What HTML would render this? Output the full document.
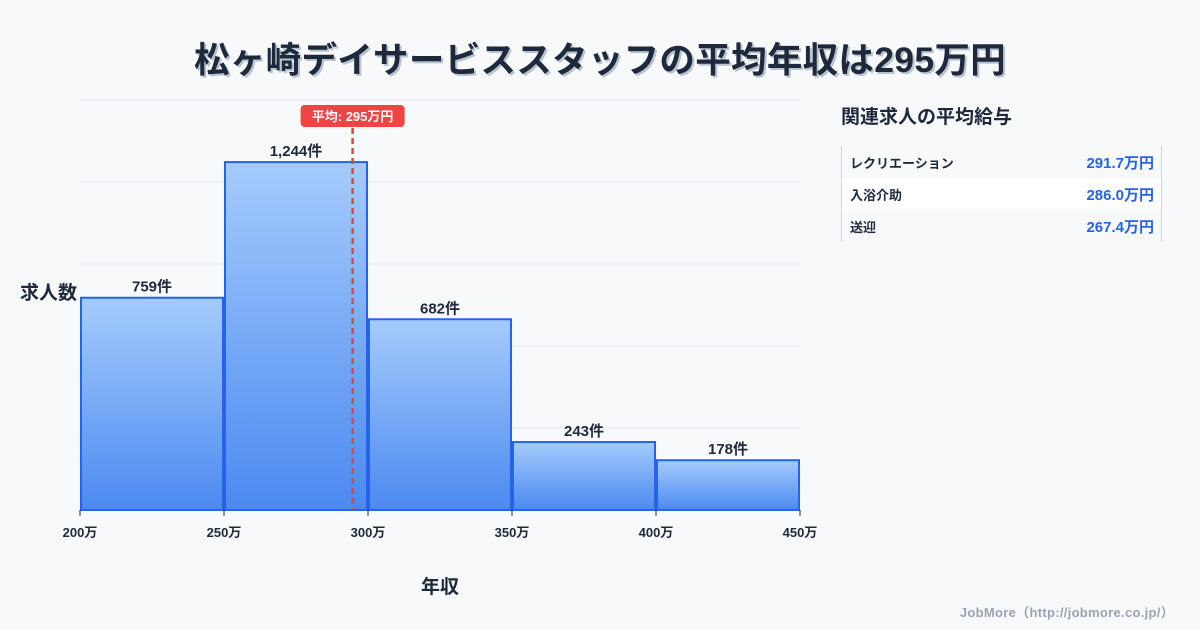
<!DOCTYPE html>
<html><head><meta charset="utf-8">
<style>
body{margin:0;width:1200px;height:630px;background:#f8f9fb;font-family:"Liberation Sans","Noto Sans CJK JP",sans-serif;color:#1e293b;overflow:hidden;position:relative}
.title{position:absolute;top:32px;left:0;width:1200px;text-align:center;font-size:35.5px;font-weight:bold;color:#1e293b;text-shadow:2px 2px 0 #b8c2d0;letter-spacing:0.3px}
.side h3{position:absolute;left:841px;top:102px;margin:0;font-size:19px;font-weight:bold}
.tbl{position:absolute;left:841px;top:146px;width:319px;border-left:1px solid #cbd5e1;border-right:1px solid #cbd5e1}
.row{height:32px;display:flex;justify-content:space-between;align-items:center;padding:0 7px 0 8px;font-size:13px;font-weight:bold}
.row .v{color:#2563eb;font-size:15px}
.row.alt{background:#fff}
.foot{position:absolute;right:26px;top:602px;font-size:13px;color:#9aa3af;font-weight:bold;letter-spacing:0.3px}
</style></head><body>
<div class="title">松ヶ崎デイサービススタッフの平均年収は295万円</div>
<svg id="chart" width="1200" height="630" style="position:absolute;left:0;top:0">
<defs><linearGradient id="g" x1="0" y1="0" x2="0" y2="1"><stop offset="0" stop-color="#a5cbfb"/><stop offset="1" stop-color="#4b8af1"/></linearGradient></defs>
</svg>
<div class="side">
<h3>関連求人の平均給与</h3>
<div class="tbl">
<div class="row"><span>レクリエーション</span><span class="v">291.7万円</span></div>
<div class="row alt"><span>入浴介助</span><span class="v">286.0万円</span></div>
<div class="row"><span>送迎</span><span class="v">267.4万円</span></div>
</div></div>
<div class="foot">JobMore（http://jobmore.co.jp/）</div>
<script>
const binStarts=[200,250,300,350,400];
const counts=[759,1244,682,243,178];
const xTicks=[200,250,300,350,400,450];
const avgValue=295;
const NS="http://www.w3.org/2000/svg";
const svg=document.getElementById('chart');
const x0=80,x1=800,yB=510,yT=100,xMin=200,xMax=450,yMax=1466;
const X=v=>x0+(v-xMin)/(xMax-xMin)*(x1-x0);
const Y=v=>yB-v/yMax*(yB-yT);
function mk(t,a,txt){const e=document.createElementNS(NS,t);for(const k in a)e.setAttribute(k,a[k]);if(txt!=null)e.textContent=txt;svg.appendChild(e);return e;}
for(let i=0;i<=5;i++){const y=yT+i*(yB-yT)/5;
const gl=mk('line',{x1:x0,x2:x1,y1:y,y2:y,stroke:'#e5e7eb','stroke-width':1});

}
counts.forEach((c,i)=>{
const xa=X(binStarts[i])+1,xb=X(binStarts[i]+50)-1;
const r=mk('rect',{x:xa,y:Y(c),width:xb-xa,height:yB-Y(c),fill:'url(#g)',stroke:'#2563eb','stroke-width':2});


const t=mk('text',{x:(xa+xb)/2,y:Y(c)-6,'text-anchor':'middle','font-size':15,'font-weight':'bold',fill:'#1e293b'},c.toLocaleString()+'件');


});
xTicks.forEach(v=>{
const l=mk('line',{x1:X(v),x2:X(v),y1:yB,y2:yB+6,stroke:'#1e293b','stroke-width':1});


const t=mk('text',{x:X(v),y:537,'text-anchor':'middle','font-size':13,'font-weight':'bold',fill:'#1e293b'},v+'万');


});
const ax=X(avgValue)-1;
const al=mk('line',{x1:ax,x2:ax,y1:128,y2:yB,stroke:'#e04545','stroke-width':2.5,'stroke-dasharray':'6,4'});


const ab=mk('rect',{x:ax-52,y:105,width:104,height:22,rx:4,fill:'#ef4444'});


const at=mk('text',{x:ax,y:121,'text-anchor':'middle','font-size':13,'font-weight':'bold',fill:'#fff'},'平均: '+avgValue+'万円');


const yt=mk('text',{x:20,y:299,'font-size':19,'font-weight':'bold',fill:'#1e293b'},'求人数');


const xt=mk('text',{x:440,y:593,'text-anchor':'middle','font-size':19,'font-weight':'bold',fill:'#1e293b'},'年収');


</script>
</body></html>
